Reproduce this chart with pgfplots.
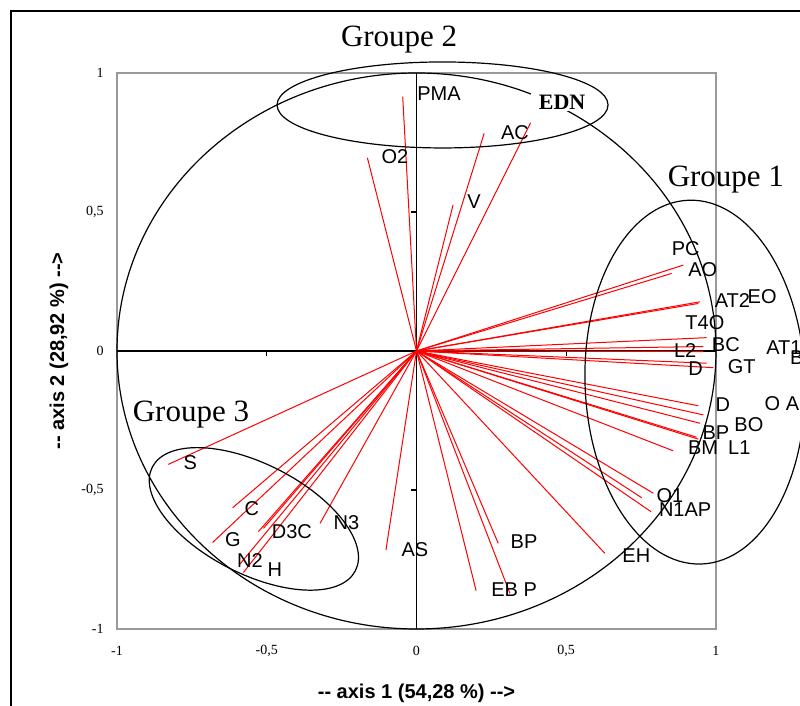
\documentclass[border=0pt]{standalone}
\usepackage{pgfplots}
\pgfplotsset{compat=1.18}
\usepackage{fontspec}
\setmainfont{Liberation Serif}
\newfontfamily\arial{Liberation Sans}
\usetikzlibrary{shapes.geometric}

\begin{document}
\begin{tikzpicture}
\useasboundingbox (0,0) rectangle (400pt,353pt);
\draw[line width=0.8pt] (5.5pt,0pt) -- (5.5pt,347.5pt) -- (400pt,347.5pt);
\begin{axis}[
  at={(58.5pt,38.5pt)}, anchor=south west,
  width=299.5pt, height=278pt, scale only axis,
  xmin=-1, xmax=1, ymin=-1, ymax=1, clip=false,
  axis line style={black!40, line width=0.6pt},
  major tick length=0pt,
  xtick={-1,-0.5,0,0.5,1}, xticklabels={-1,{-0,5},0,{0,5},1},
  ytick={-1,-0.5,0,0.5,1}, yticklabels={-1,{-0,5},0,{0,5},1},
  tick label style={font=\fontsize{7}{8}\selectfont},
  xticklabel style={anchor=center, inner sep=0pt, yshift=-11pt},
  yticklabel style={anchor=east, inner sep=0pt, xshift=-6.5pt},
]
% cross axes
\draw[black, line width=0.6pt] (axis cs:-1,0) -- (axis cs:1,0);
\draw[black, line width=0.6pt] (axis cs:0,-1) -- (axis cs:0,1);
\draw[black, line width=0.6pt] (axis cs:-0.5,0) -- ([yshift=-2.5pt]axis cs:-0.5,0);
\draw[black, line width=0.6pt] (axis cs:0.5,0) -- ([yshift=-2.5pt]axis cs:0.5,0);
\draw[black, line width=0.6pt] (axis cs:0,0.5) -- ([xshift=-2.5pt]axis cs:0,0.5);
\draw[black, line width=0.6pt] (axis cs:0,-0.5) -- ([xshift=-2.5pt]axis cs:0,-0.5);

% variable vectors
\addplot[red, line width=0.5pt, quiver={u=\thisrow{u}, v=\thisrow{v}}, -] table[x=x0, y=y0] {
x0 y0 u v
0 0 -0.046 0.915
0 0 -0.164 0.695
0 0 0.226 0.783
0 0 0.381 0.821
0 0 0.122 0.525
0 0 0.891 0.309
0 0 0.852 0.279
0 0 0.947 0.177
0 0 0.941 0.171
0 0 0.969 0.048
0 0 0.958 0.016
0 0 0.958 -0.002
0 0 0.969 -0.044
0 0 0.991 -0.060
0 0 0.941 -0.197
0 0 0.958 -0.230
0 0 0.947 -0.260
0 0 0.941 -0.317
0 0 0.935 -0.310
0 0 0.857 -0.359
0 0 0.791 -0.512
0 0 0.752 -0.528
0 0 0.783 -0.578
0 0 0.629 -0.728
0 0 0.273 -0.692
0 0 0.312 -0.872
0 0 0.199 -0.862
0 0 -0.102 -0.716
0 0 -0.322 -0.620
0 0 -0.829 -0.408
0 0 -0.614 -0.564
0 0 -0.681 -0.689
0 0 -0.528 -0.650
0 0 -0.511 -0.638
0 0 -0.589 -0.766
0 0 -0.578 -0.797
};

% correlation circle and group ellipses
\draw[black, line width=0.6pt] (axis cs:0,0) ellipse [x radius=1, y radius=1];
\node[draw, ellipse, line width=0.6pt, minimum width=165.5pt, minimum height=43pt, inner sep=0pt] at (axis cs:0.087,0.885) {};
\node[draw, ellipse, line width=0.6pt, minimum width=110pt, minimum height=182pt, inner sep=0pt, rotate=2] at (axis cs:0.930,-0.112) {};
\node[draw, ellipse, line width=0.6pt, minimum width=114pt, minimum height=55pt, inner sep=0pt, rotate=-27] at (axis cs:-0.543,-0.604) {};

% group titles
\node[font=\fontsize{15.5}{18}\selectfont] at (axis cs:-0.058,1.119) {Groupe 2};
\node[font=\fontsize{15.5}{18}\selectfont] at (axis cs:1.033,0.615) {Groupe 1};
\node[font=\fontsize{15.5}{18}\selectfont] at (axis cs:-0.753,-0.227) {Groupe 3};
\node[font=\bfseries\fontsize{11}{13}\selectfont, fill=white, inner xsep=4pt, inner ysep=1pt] at (axis cs:0.486,0.896) {EDN};

% variable labels
\begin{scope}[every node/.style={font=\arial\fontsize{10}{12}\selectfont, inner sep=0pt}]
\node at (axis cs:0.075,0.924) {PMA};
\node at (axis cs:0.329,0.786) {AC};
\node at (axis cs:-0.072,0.698) {O2};
\node at (axis cs:0.192,0.536) {V};
\node at (axis cs:0.899,0.367) {PC};
\node at (axis cs:0.956,0.291) {AO};
\node at (axis cs:1.055,0.181) {AT2};
\node at (axis cs:1.154,0.194) {EO};
\node at (axis cs:0.963,0.101) {T4O};
\node at (axis cs:1.033,0.022) {BC};
\node at (axis cs:0.897,0.000) {L2};
\node at (axis cs:1.227,0.011) {AT1};
\node at (axis cs:1.270,-0.025) {B};
\node at (axis cs:0.932,-0.065) {D};
\node at (axis cs:1.086,-0.058) {GT};
\node at (axis cs:1.023,-0.194) {D};
\node at (axis cs:1.220,-0.191) {O A};
\node at (axis cs:1.110,-0.266) {BO};
\node at (axis cs:1.000,-0.295) {BP};
\node at (axis cs:0.957,-0.349) {BM};
\node at (axis cs:1.078,-0.349) {L1};
\node at (axis cs:0.846,-0.522) {O1};
\node at (axis cs:0.897,-0.572) {N1AP};
\node at (axis cs:0.734,-0.737) {EH};
\node at (axis cs:0.359,-0.686) {BP};
\node at (axis cs:0.326,-0.860) {EB P};
\node at (axis cs:-0.005,-0.714) {AS};
\node at (axis cs:-0.234,-0.619) {N3};
\node at (axis cs:-0.755,-0.401) {S};
\node at (axis cs:-0.550,-0.568) {C};
\node at (axis cs:-0.416,-0.651) {D3C};
\node at (axis cs:-0.613,-0.680) {G};
\node at (axis cs:-0.556,-0.752) {N2};
\node at (axis cs:-0.473,-0.788) {H};
\end{scope}

% axis titles
\node[font=\arial\bfseries\fontsize{10}{12}\selectfont] at ([yshift=-32pt]axis cs:0,-1) {-- axis 1 (54,28 \%) -->};
\node[font=\arial\bfseries\fontsize{10}{12}\selectfont, rotate=90] at ([xshift=-29pt]axis cs:-1,0) {-- axis 2 (28,92 \%) -->};
\end{axis}
\end{tikzpicture}
\end{document}
